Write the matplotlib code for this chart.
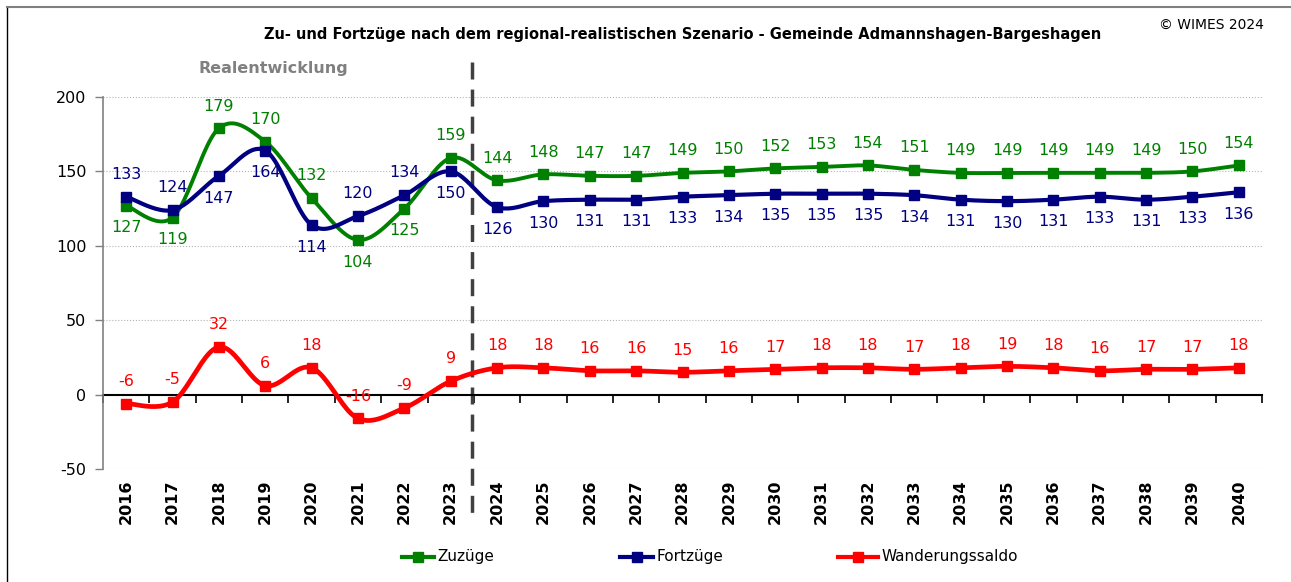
import numpy as np
import matplotlib
matplotlib.use('Agg')
import matplotlib.pyplot as plt
from matplotlib.lines import Line2D
import matplotlib.transforms as mtransforms

plt.rcParams['font.family'] = ['DejaVu Sans']
plt.rcParams['axes.unicode_minus'] = False

years = [str(y) for y in range(2016, 2041)]
zuzuege = [127, 119, 179, 170, 132, 104, 125, 159, 144, 148, 147, 147, 149,
           150, 152, 153, 154, 151, 149, 149, 149, 149, 149, 150, 154]
fortzuege = [133, 124, 147, 164, 114, 120, 134, 150, 126, 130, 131, 131, 133,
             134, 135, 135, 135, 134, 131, 130, 131, 133, 131, 133, 136]
saldo = [-6, -5, 32, 6, 18, -16, -9, 9, 18, 18, 16, 16, 15,
         16, 17, 18, 18, 17, 18, 19, 18, 16, 17, 17, 18]

title = "Zu- und Fortzüge nach dem regional-realistischen Szenario - Gemeinde Admannshagen-Bargeshagen"
series_names = ["Zuzüge", "Fortzüge", "Wanderungssaldo"]

# indices where Zuzüge label sits below (and Fortzüge above)
swap_idx = {0, 1, 5, 6}

W, H = 1291, 582
fig = plt.figure(figsize=(W / 100, H / 100), dpi=100)
ax = fig.add_axes([103 / W, 1 - 469 / H, (1262 - 103) / W, 372 / H])

x = np.arange(len(years))
ax.set_xlim(-0.5, len(years) - 0.5)
ax.set_ylim(-50, 200)


def smooth(xs, ys, n=24):
    xs = np.asarray(xs, float)
    ys = np.asarray(ys, float)
    P = np.column_stack([xs, ys])
    Pext = np.vstack([P[0], P, P[-1]])
    out = []
    for i in range(len(P) - 1):
        p0, p1, p2, p3 = Pext[i], Pext[i + 1], Pext[i + 2], Pext[i + 3]
        c1 = p1 + (p2 - p0) / 6.0
        c2 = p2 - (p3 - p1) / 6.0
        t = np.linspace(0, 1, n, endpoint=(i == len(P) - 2))[:, None]
        seg = ((1 - t) ** 3) * p1 + 3 * ((1 - t) ** 2) * t * c1 + 3 * (1 - t) * t ** 2 * c2 + t ** 3 * p2
        out.append(seg)
    out = np.vstack(out)
    return out[:, 0], out[:, 1]


colors = ['#008000', '#000080', '#FF0000']
data = [zuzuege, fortzuege, saldo]
lws = [2.8, 3.0, 3.4]

for vals, c, lw in zip(data, colors, lws):
    sx, sy = smooth(x, vals)
    ax.plot(sx, sy, color=c, lw=lw, zorder=3, solid_capstyle='round')
    ax.plot(x, vals, 's', color=c, ms=7.5, zorder=4)

lab_fs = 11.5
for i, v in enumerate(zuzuege):
    off = -16 if i in swap_idx else 16
    ax.annotate(str(v), (i, v), xytext=(0, off), textcoords='offset points',
                ha='center', va='center', color=colors[0], fontsize=lab_fs, zorder=5)
for i, v in enumerate(fortzuege):
    off = 16 if i in swap_idx else -16
    ax.annotate(str(v), (i, v), xytext=(0, off), textcoords='offset points',
                ha='center', va='center', color=colors[1], fontsize=lab_fs, zorder=5)
for i, v in enumerate(saldo):
    ax.annotate(str(v), (i, v), xytext=(0, 16), textcoords='offset points',
                ha='center', va='center', color=colors[2], fontsize=lab_fs, zorder=5)

# axes styling
ax.spines['top'].set_visible(False)
ax.spines['right'].set_visible(False)
ax.spines['bottom'].set_position(('data', 0))
ax.spines['bottom'].set_color('black')
ax.spines['bottom'].set_linewidth(1.5)
ax.spines['bottom'].set_zorder(2)
ax.spines['left'].set_color('#808080')
ax.spines['left'].set_linewidth(1.2)

ax.set_yticks([-50, 0, 50, 100, 150, 200])
ax.tick_params(axis='y', direction='out', length=6, color='#808080', width=1,
               labelsize=11.5, pad=6)
ax.set_xticks(np.arange(-0.5, len(years), 1))
ax.set_xticklabels([])
ax.tick_params(axis='x', direction='out', length=6, width=1.2, color='black')
for gy in [-50, 50, 100, 150, 200]:
    ax.axhline(gy, color='#b4b4b4', lw=0.8, ls=':', zorder=1)

trans = mtransforms.blended_transform_factory(ax.transData, ax.transAxes)
for i, yr in enumerate(years):
    ax.text(i, -0.028, yr, rotation=90, ha='center', va='top', fontweight='bold',
            fontsize=11.5, transform=trans)

# dashed separator between real and forecast
ax.plot([7.45, 7.45], [1.094, -0.124], transform=trans, color='#404040', lw=2.5,
        dashes=(4.9, 2.9), clip_on=False, zorder=2)

# texts
fig.text(683 / W, 1 - 35 / H, title, ha='center', va='center', fontweight='bold', fontsize=10.5)
fig.text(273 / W, 1 - 69 / H, "Realentwicklung", ha='center', va='center',
         fontweight='bold', fontsize=11.5, color='#808080')
fig.text(1264 / W, 1 - 25 / H, "© WIMES 2024", ha='right', va='center', fontsize=10)

# legend
leg_y = 1 - 557 / H
leg_items = [(402, 434, 437), (620, 653, 656), (838, 878, 882)]
for (x0, x1, xt), name, c in zip(leg_items, series_names, colors):
    fig.add_artist(Line2D([x0 / W, x1 / W], [leg_y, leg_y], transform=fig.transFigure,
                          color=c, lw=3))
    fig.add_artist(Line2D([(x0 + x1) / 2 / W], [leg_y], transform=fig.transFigure,
                          color=c, marker='s', ms=7, lw=0))
    fig.text(xt / W, leg_y, name, ha='left', va='center', fontsize=11)

# frame
fig.add_artist(Line2D([7 / W, 7 / W], [0, 1 - 7 / H], transform=fig.transFigure,
                      color='black', lw=1))
fig.add_artist(Line2D([7 / W, 1], [1 - 7 / H, 1 - 7 / H], transform=fig.transFigure,
                      color='#808080', lw=1.5))

fig.savefig('out.png', dpi=100)
